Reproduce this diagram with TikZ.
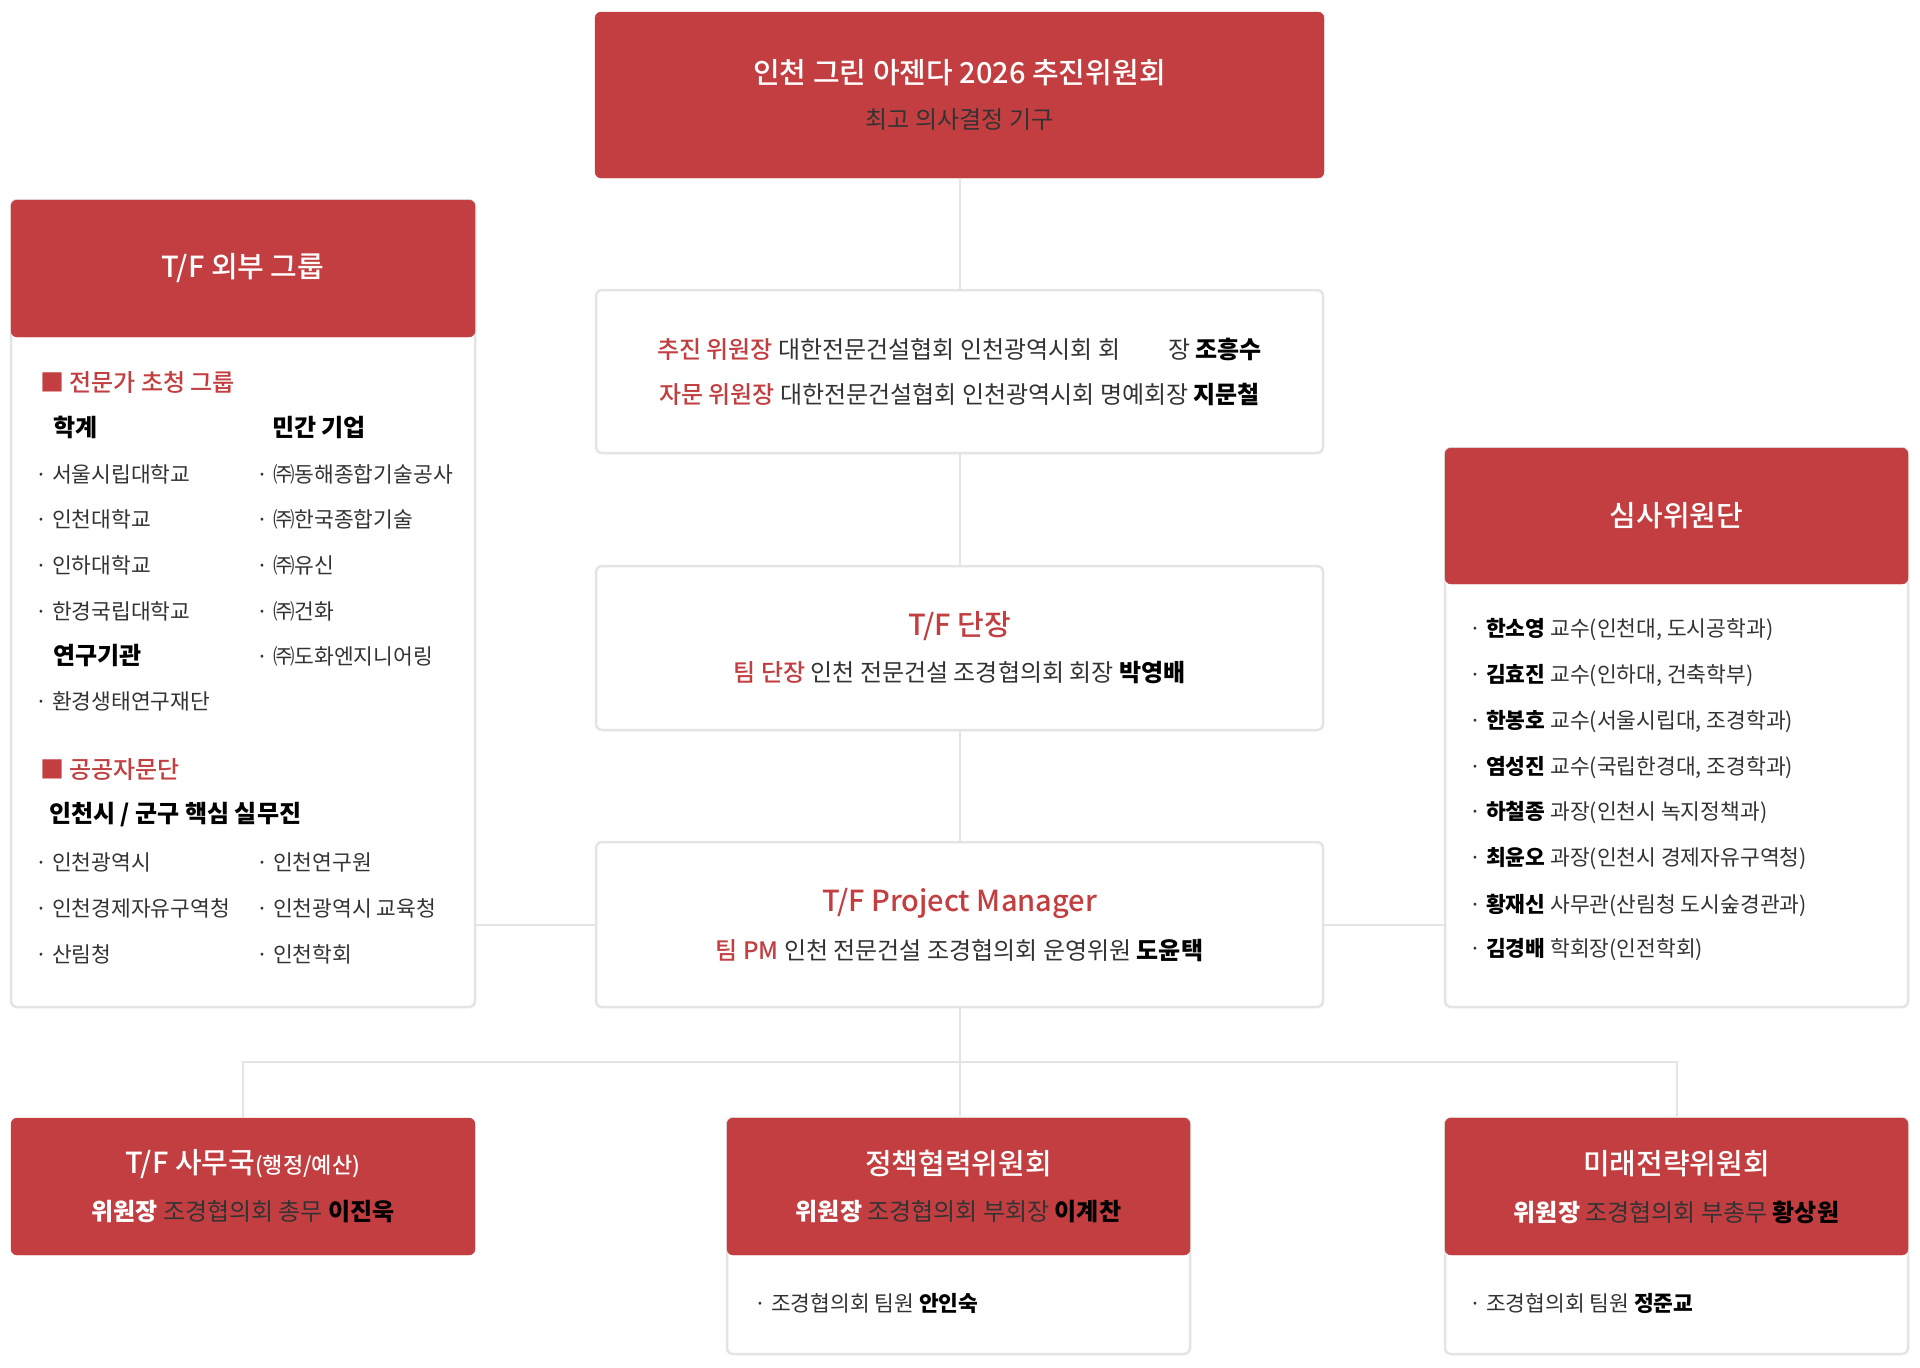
\documentclass[tikz,border=0pt]{standalone}
\usepackage{fontspec}
\setmainfont{Noto Sans CJK KR}
\newfontfamily\tfMed{Noto Sans CJK KR}[UprightFont=* Medium]
\usepackage{xcolor}
\definecolor{tfRed}{HTML}{C23E40}
\definecolor{tfGray}{HTML}{333333}
\definecolor{tfLine}{HTML}{E4E4E4}
\usepackage{tikz}
\usetikzlibrary{fit, positioning}

\newcommand{\tfHead}{\fontsize{29}{34}\tfMed}
\newcommand{\tfBody}{\fontsize{24}{28}\selectfont}
\newcommand{\tfItem}{\fontsize{21.5}{26}\selectfont}

\begin{document}
\begin{tikzpicture}[
		x=1pt, y=-1pt,
		redbox/.style={
			fill=tfRed,
			draw=tfRed,
			rounded corners=6pt,
			inner sep=0pt
		},
		panel/.style={
			draw=tfLine,
			fill=white,
			line width=2.5pt,
			rounded corners=6pt,
			inner sep=0pt
		},
		head/.style={font=\tfHead, text=white, inner sep=0pt},
		line/.style={font=\tfBody, text=tfGray, inner sep=0pt},
		sect/.style={anchor=west, font=\tfBody\tfMed, text=tfRed, inner sep=0pt},
		sub/.style={anchor=west, font=\tfBody\bfseries, text=black, inner sep=0pt},
		item/.style={anchor=west, font=\tfItem, text=tfGray, inner sep=0pt},
		link/.style={draw=tfLine, line width=2pt}
		]
		
		\useasboundingbox (0,0) rectangle (1920,1368);
		
		% top committee
		\node[redbox, fit={(595,12) (1324,178)}] (top) {};
		\node[head] (topTitle) at (959.5,73) {인천 그린 아젠다 2026 추진위원회};
		\node[line] (topSub) at (959.5,120) {최고 의사결정 기구};
		
		% centre column
		\node[panel, fit={(596,290) (1323,453)}] (chair) {};
		\node[line] (chairA) at (959.5,349) {{\color{tfRed}\tfMed 추진 위원장} 대한전문건설협회 인천광역시회 회\hspace{2em}장 {\color{black}\bfseries 조흥수}};
		\node[line] (chairB) at (959.5,394) {{\color{tfRed}\tfMed 자문 위원장} 대한전문건설협회 인천광역시회 명예회장 {\color{black}\bfseries 지문철}};
		
		\node[panel, fit={(596,566) (1323,730)}] (leader) {};
		\node[head, text=tfRed] (leaderTitle) at (959.5,626) {T/F 단장};
		\node[line] (leaderLine) at (959.5,673) {{\color{tfRed}\tfMed 팀 단장} 인천 전문건설 조경협의회 회장 {\color{black}\bfseries 박영배}};
		
		\node[panel, fit={(596,842) (1323,1007)}] (pm) {};
		\node[head, text=tfRed] (pmTitle) at (959.5,903) {T/F Project Manager};
		\node[line] (pmLine) at (959.5,950) {{\color{tfRed}\tfMed 팀 PM} 인천 전문건설 조경협의회 운영위원 {\color{black}\bfseries 도윤택}};
		
		% outside group
		\node[panel, fit={(11,200) (475,1007)}] (ext) {};
		\node[redbox, fit={(11,200) (475,337)}] (extHead) {};
		\node[head] (extTitle) at (extHead.center) {T/F 외부 그룹};
		
		\node[sect] (expert) at (40,382) {■ 전문가 초청 그룹};
		\node[sub] (acad) at (53,427) {학계};
		\node[sub] (biz) at (272,427) {민간 기업};
		\node[item] (acadA) at (35,474) {· 서울시립대학교};
		\node[item] (acadB) at (35,519) {· 인천대학교};
		\node[item] (acadC) at (35,565) {· 인하대학교};
		\node[item] (acadD) at (35,611) {· 한경국립대학교};
		\node[sub] (lab) at (53,656) {연구기관};
		\node[item] (labA) at (35,701) {· 환경생태연구재단};
		\node[item] (bizA) at (256,474) {· ㈜동해종합기술공사};
		\node[item] (bizB) at (256,519) {· ㈜한국종합기술};
		\node[item] (bizC) at (256,565) {· ㈜유신};
		\node[item] (bizD) at (256,611) {· ㈜건화};
		\node[item] (bizE) at (256,656) {· ㈜도화엔지니어링};
		
		\node[sect] (public) at (40,770) {■ 공공자문단};
		\node[sub] (core) at (49,815) {인천시 / 군구 핵심 실무진};
		\node[item] (pubA) at (35,862) {· 인천광역시};
		\node[item] (pubB) at (35,908) {· 인천경제자유구역청};
		\node[item] (pubC) at (35,954) {· 산림청};
		\node[item] (pubD) at (256,862) {· 인천연구원};
		\node[item] (pubE) at (256,908) {· 인천광역시 교육청};
		\node[item] (pubF) at (256,954) {· 인천학회};
		
		% jury
		\node[panel, fit={(1445,448) (1908,1007)}] (jury) {};
		\node[redbox, fit={(1445,448) (1908,584)}] (juryHead) {};
		\node[head] (juryTitle) at (juryHead.center) {심사위원단};
		\node[item] (juryA) at (1469,630) {· {\color{black}\bfseries 한소영} 교수(인천대, 도시공학과)};
		\node[item] (juryB) at (1469,676) {· {\color{black}\bfseries 김효진} 교수(인하대, 건축학부)};
		\node[item] (juryC) at (1469,722) {· {\color{black}\bfseries 한봉호} 교수(서울시립대, 조경학과)};
		\node[item] (juryD) at (1469,768) {· {\color{black}\bfseries 염성진} 교수(국립한경대, 조경학과)};
		\node[item] (juryE) at (1469,813) {· {\color{black}\bfseries 하철종} 과장(인천시 녹지정책과)};
		\node[item] (juryF) at (1469,859) {· {\color{black}\bfseries 최윤오} 과장(인천시 경제자유구역청)};
		\node[item] (juryG) at (1469,905) {· {\color{black}\bfseries 황재신} 사무관(산림청 도시숲경관과)};
		\node[item] (juryH) at (1469,950) {· {\color{black}\bfseries 김경배} 학회장(인전학회)};
		
		% bottom committees
		\node[redbox, fit={(11,1118) (475,1255)}] (office) {};
		\node[head] (officeTitle) at (243,1164) {T/F 사무국{\fontsize{22}{26}\selectfont(행정/예산)}};
		\node[line] (officeLine) at (243,1212) {{\color{white}\bfseries 위원장} 조경협의회 총무 {\color{black}\bfseries 이진욱}};
		
		\node[panel, fit={(727,1118) (1190,1354)}] (policyBody) {};
		\node[redbox, fit={(727,1118) (1190,1255)}] (policy) {};
		\node[head] (policyTitle) at (958.5,1164) {정책협력위원회};
		\node[line] (policyLine) at (958.5,1212) {{\color{white}\bfseries 위원장} 조경협의회 부회장 {\color{black}\bfseries 이계찬}};
		\node[item] (policyA) at (754,1303) {· 조경협의회 팀원 {\color{black}\bfseries 안인숙}};
		
		\node[panel, fit={(1445,1118) (1908,1354)}] (futureBody) {};
		\node[redbox, fit={(1445,1118) (1908,1255)}] (future) {};
		\node[head] (futureTitle) at (1676.5,1164) {미래전략위원회};
		\node[line] (futureLine) at (1676.5,1212) {{\color{white}\bfseries 위원장} 조경협의회 부총무 {\color{black}\bfseries 황상원}};
		\node[item] (futureA) at (1469,1303) {· 조경협의회 팀원 {\color{black}\bfseries 정준교}};
		
		% connectors
		\draw[link] (top.south) -- (top.south |- chair.north);
		\draw[link] (chair.south) -- (chair.south |- leader.north);
		\draw[link] (leader.south) -- (leader.south |- pm.north);
		\draw[link] (pm.south) -- (pm.south |- policy.north);
		\draw[link] (office.north) -- ++(0,-56) -| (future.north);
		\draw[link] (pm.west) -- (pm.west -| ext.east);
		\draw[link] (pm.east) -- (pm.east -| jury.west);
		
	\end{tikzpicture}
\end{document}
